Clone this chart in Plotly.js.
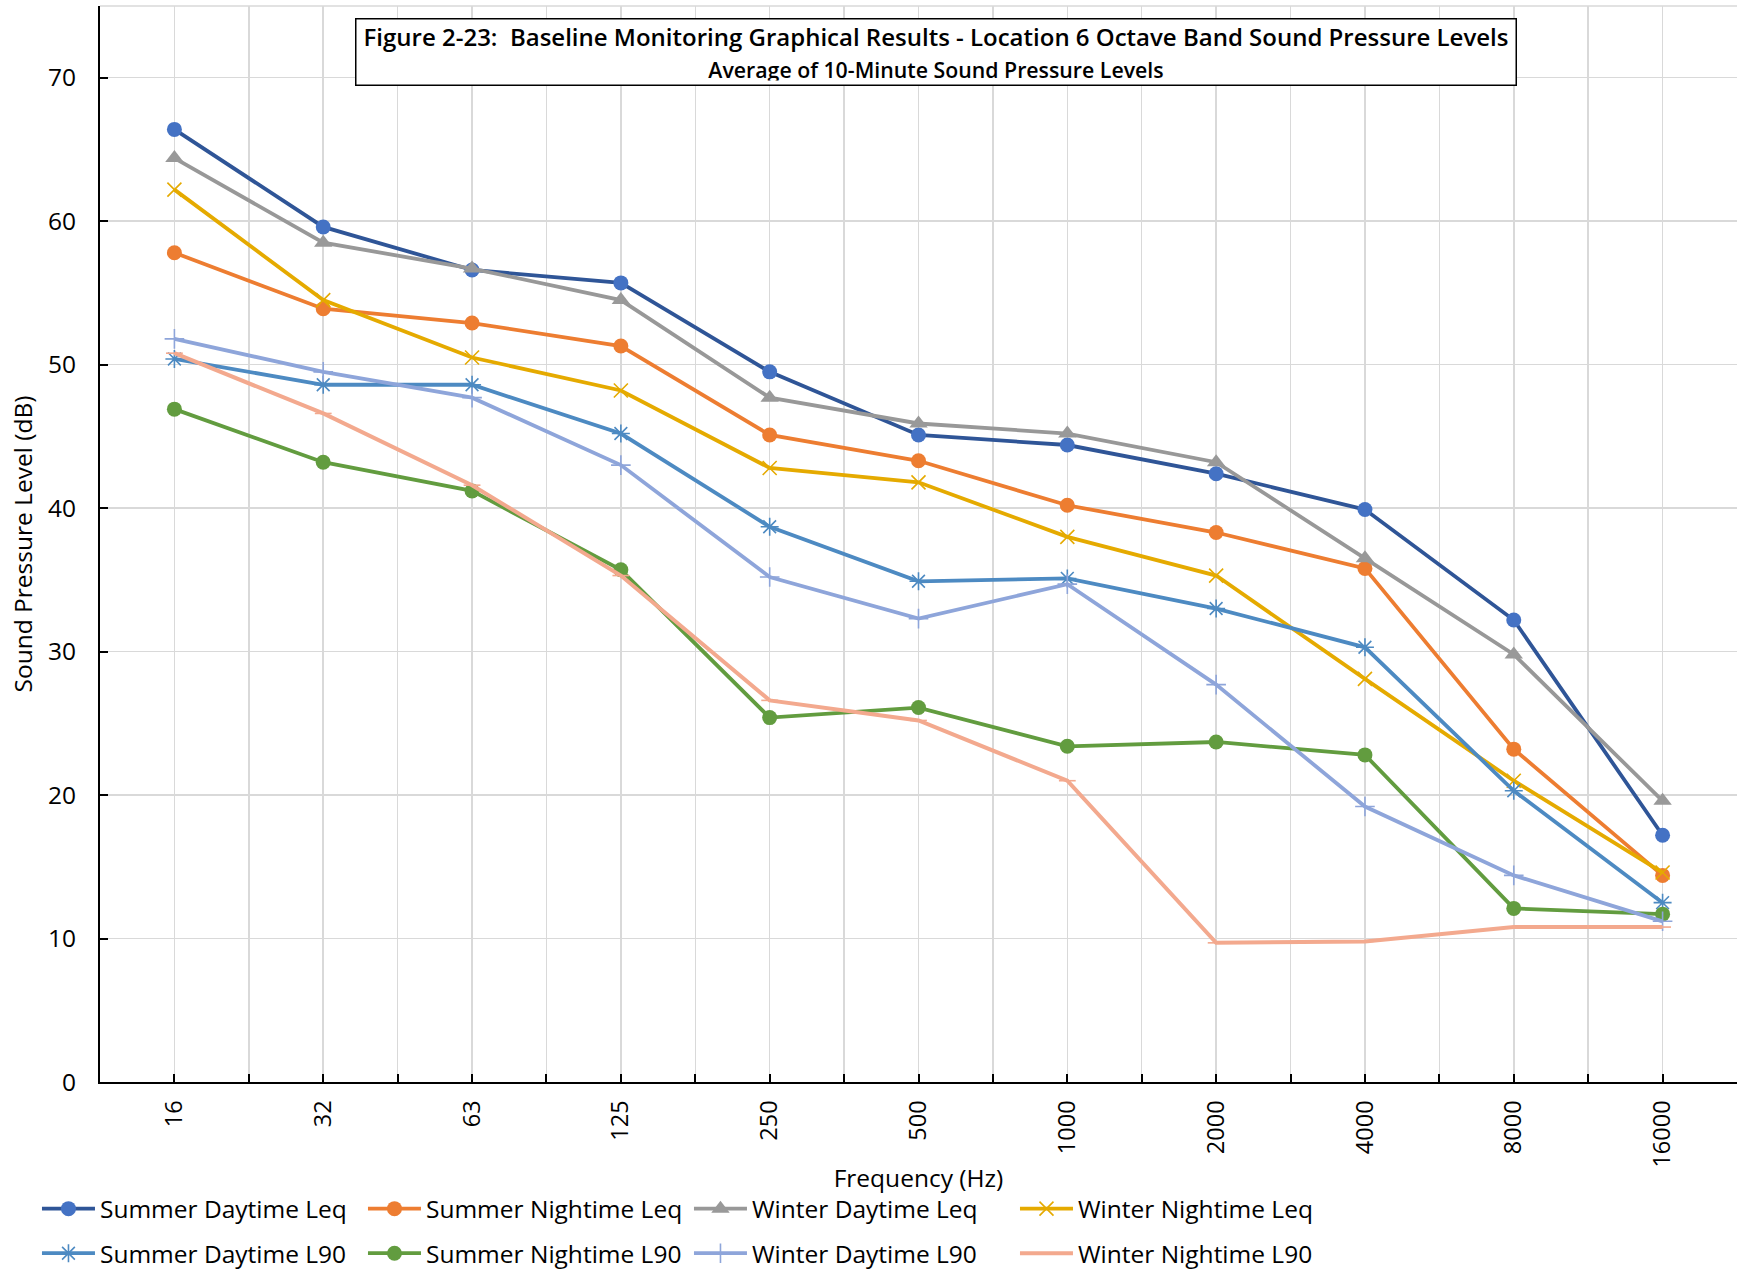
<!DOCTYPE html>
<html><head><meta charset="utf-8">
<script src="https://cdn.plot.ly/plotly-3.0.1.min.js"></script>
<style>html,body{margin:0;padding:0;background:#fff}#chart{width:1738px;height:1277px}</style>
</head><body><div id="chart"></div>
<script>
// ---- data ----
const frequencies = ['16','32','63','125','250','500','1000','2000','4000','8000','16000'];
const seriesNames = ['Summer Daytime Leq','Summer Nightime Leq','Winter Daytime Leq','Winter Nightime Leq',
                     'Summer Daytime L90','Summer Nightime L90','Winter Daytime L90','Winter Nightime L90'];
const summerDaytimeLeq   = [66.4, 59.6, 56.6, 55.7, 49.5, 45.1, 44.4, 42.4, 39.9, 32.2, 17.2];
const summerNightimeLeq  = [57.8, 53.9, 52.9, 51.3, 45.1, 43.3, 40.2, 38.3, 35.8, 23.2, 14.4];
const winterDaytimeLeq   = [64.4, 58.5, 56.7, 54.5, 47.7, 45.9, 45.2, 43.2, 36.5, 29.8, 19.6];
const winterNightimeLeq  = [62.2, 54.5, 50.5, 48.2, 42.8, 41.8, 38.0, 35.3, 28.1, 21.0, 14.6];
const summerDaytimeL90   = [50.4, 48.6, 48.6, 45.2, 38.7, 34.9, 35.1, 33.0, 30.3, 20.3, 12.5];
const summerNightimeL90  = [46.9, 43.2, 41.2, 35.7, 25.4, 26.1, 23.4, 23.7, 22.8, 12.1, 11.7];
const winterDaytimeL90   = [51.8, 49.5, 47.7, 43.0, 35.2, 32.3, 34.7, 27.7, 19.2, 14.4, 11.2];
const winterNightimeL90  = [50.8, 46.6, 41.6, 35.3, 26.6, 25.2, 21.0,  9.7,  9.8, 10.8, 10.8];
const yTicks = [0, 10, 20, 30, 40, 50, 60, 70];
const titleLine1 = 'Figure 2-23:\u00a0 Baseline Monitoring Graphical Results - Location 6 Octave Band Sound Pressure Levels';
const titleLine2 = 'Average of 10-Minute Sound Pressure Levels';
const xTitle = 'Frequency (Hz)';
const yTitle = 'Sound Pressure Level (dB)';

// ---- styles ----
const seriesValues = [summerDaytimeLeq, summerNightimeLeq, winterDaytimeLeq, winterNightimeLeq,
                      summerDaytimeL90, summerNightimeL90, winterDaytimeL90, winterNightimeL90];
const styles = [
  {line:'#2F5597', mk:'#4472C4', sym:'circle', size:15},
  {line:'#ED7D31', mk:'#ED7D31', sym:'circle', size:15},
  {line:'#989898', mk:'#999999', sym:'triangle-up', size:16},
  {line:'#E5AA00', mk:'#E5AA00', sym:'x-thin', size:14, open:true},
  {line:'#4D8AC2', mk:'#4D8AC2', sym:'asterisk', size:15, open:true},
  {line:'#629C3F', mk:'#629C3F', sym:'circle', size:15},
  {line:'#8EA5DA', mk:'#8EA5DA', sym:'cross-thin', size:14, open:true},
  {line:'#F3A98E', mk:'#F3A98E', sym:'line-ew', size:12, open:true, w:4}
];
const FONT = 'Open Sans, Noto Sans, sans-serif';
const xIdx = frequencies.map((f, i) => i);

const traces = seriesValues.map((vals, k) => {
  const s = styles[k];
  const marker = {symbol: s.sym, size: s.size, color: s.mk};
  if (s.open) marker.line = {color: s.mk, width: 1.6};
  return {
    type: 'scatter', mode: 'lines+markers', name: seriesNames[k],
    x: xIdx, y: vals,
    line: {color: s.line, width: s.w || 3.8},
    marker: marker,
    legend: k < 4 ? 'legend' : 'legend2',
    hoverinfo: 'skip'
  };
});

const tickVals = [-0.5];
const tickText = [''];
frequencies.forEach((f, i) => { tickVals.push(i); tickText.push(f); tickVals.push(i + 0.5); tickText.push(''); });

const legendCommon = {
  orientation: 'h', xref: 'paper', yref: 'paper', x: -0.0385, xanchor: 'left', yanchor: 'middle',
  font: {family: FONT, size: 24.5, color: '#000'},
  itemwidth: 53, entrywidth: 258, entrywidthmode: 'pixels', bgcolor: 'rgba(0,0,0,0)', tracegroupgap: 0
};

const layout = {
  width: 1738, height: 1277,
  margin: {l: 100, r: 1, t: 6, b: 190, pad: 0},
  paper_bgcolor: '#fff', plot_bgcolor: '#fff',
  font: {family: FONT, size: 24.5, color: '#000'},
  showlegend: true,
  legend: Object.assign({}, legendCommon, {y: -0.1178}),
  legend2: Object.assign({}, legendCommon, {y: -0.1592}),
  xaxis: {
    range: [-0.5, 10.5], tickmode: 'array', tickvals: tickVals, ticktext: tickText,
    tickangle: -90, ticks: 'inside', ticklen: 8, tickwidth: 2, tickcolor: '#000',
    showgrid: true, gridcolor: '#d9d9d9', gridwidth: 1.5,
    showline: true, linecolor: '#000', linewidth: 2, zeroline: false,
    tickfont: {family: FONT, size: 23.5, color: '#000'}, ticklabelstandoff: 7,
    title: {text: xTitle, font: {family: FONT, size: 24.5, color: '#000'}, standoff: 3},
    automargin: false, fixedrange: true
  },
  yaxis: {
    range: [0, 75], tickmode: 'array', tickvals: yTicks,
    ticks: 'inside', ticklen: 8, tickwidth: 2, tickcolor: '#000',
    showgrid: true, gridcolor: '#d9d9d9', gridwidth: 1.5,
    showline: true, linecolor: '#000', linewidth: 2, zeroline: false,
    tickfont: {family: FONT, size: 24.5, color: '#000'}, ticklabelstandoff: 17,
    title: {text: yTitle, font: {family: FONT, size: 24.5, color: '#000'}, standoff: 8},
    automargin: false, fixedrange: true
  },
  shapes: [{type: 'line', xref: 'paper', yref: 'paper', x0: 0, x1: 1, y0: 1, y1: 1,
            line: {color: '#d9d9d9', width: 1.5}}],
  annotations: [{
    xref: 'paper', yref: 'paper', x: 0.5107, y: 0.9889, xanchor: 'center', yanchor: 'top',
    text: '<span style="font-size:24px">' + titleLine1 + '</span><br><span style="font-size:21.3px">' + titleLine2 + '</span>',
    showarrow: false, align: 'center', valign: 'middle',
    font: {family: FONT, size: 24.5, color: '#000', weight: 600},
    bgcolor: '#fff', bordercolor: '#000', borderwidth: 1.5, borderpad: 4,
    width: 1151, height: 57
  }]
};

Plotly.newPlot('chart', traces, layout, {displayModeBar: false, staticPlot: true});
</script></body></html>
